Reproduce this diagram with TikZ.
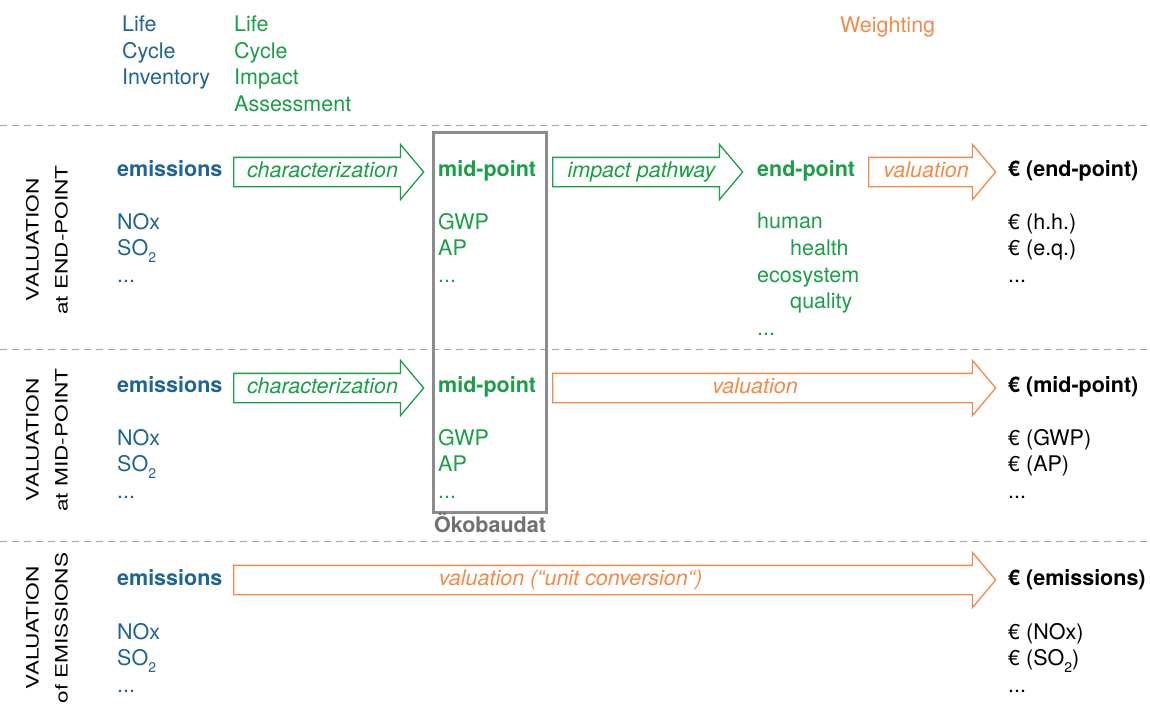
\documentclass[tikz,border=0pt]{standalone}
\usepackage{fontspec}
\setmainfont{TeX Gyre Heros}
\newfontfamily\labelfont[FakeStretch=1.33]{TeX Gyre Heros}
\usepackage{tikz}
\usepackage{xcolor}
\definecolor{lci_blue}{HTML}{1F6496}
\definecolor{lcia_green}{HTML}{1A9E48}
\definecolor{wgt_orange}{HTML}{F28A4A}
\definecolor{box_grey}{HTML}{8C8C8C}
\definecolor{oeko_grey}{HTML}{707070}
\usetikzlibrary{shapes.arrows,positioning,calc}
\newcommand{\dfont}{\fontsize{21.5pt}{26.5pt}\selectfont}
\newcommand{\moredots}{...}
\newcommand{\subtwo}{\raisebox{-7pt}{\fontsize{14pt}{14pt}\selectfont 2}}
\newcommand{\padright}[1]{\rule{#1}{0pt}}
\tikzset{TXT/.style={inner sep=0pt, anchor=base west, font=\dfont}}
\tikzset{BOLDTXT/.style={TXT, font=\dfont\bfseries}}
\tikzset{FLOW/.style={single arrow, draw=#1, text=#1, line width=1.3pt, single arrow head extend=13pt, single arrow tip angle=100, inner xsep=6pt, inner ysep=5pt, text height=14pt, text depth=4pt, anchor=tail, font=\dfont\itshape}}
\tikzset{SEP/.style={dashed, dash pattern=on 7pt off 5pt, box_grey!80, line width=0.9pt}}
\tikzset{ROWLABEL/.style={inner sep=0pt, rotate=90, align=center, font=\labelfont\fontsize{17pt}{29pt}\selectfont}}
\tikzset{OEKOBOX/.style={rectangle, draw=box_grey, line width=2.6pt, inner sep=0pt}}

\begin{document}
\begin{tikzpicture}[x=1pt,y=-1pt]
\useasboundingbox (0,0) rectangle (1150,705);

% column titles
\node[TXT, anchor=north west, align=left, text=lci_blue] (n_lci) at (122,16) {Life\\Cycle\\Inventory};
\node[TXT, anchor=north west, align=left, text=lcia_green] (n_lcia) at (234,16) {Life\\Cycle\\Impact\\Assessment};
\node[TXT, text=wgt_orange] (n_weighting) at (840,32) {Weighting};

% separators
\foreach \y in {125,349,541}
  \draw[SEP] (0,\y) -- (1150,\y);

% row titles
\node[ROWLABEL] (n_row_end) at (47,240) {VALUATION\\at END-POINT};
\node[ROWLABEL] (n_row_mid) at (47,440) {VALUATION\\at MID-POINT};
\node[ROWLABEL] (n_row_emi) at (47,628) {VALUATION\\of EMISSIONS};

% Oekobaudat box
\node[OEKOBOX, minimum width=113pt, minimum height=380pt, anchor=north west] (n_oekobox) at (432,131) {};
\node[BOLDTXT, anchor=base, text=oeko_grey] (n_oekobaudat) at (490,532) {Ökobaudat};

% valuation at end-point
\node[BOLDTXT, text=lci_blue] (n_em_end) at (117,176) {emissions};
\node[FLOW=lcia_green, minimum height=190pt] (a_char_end) at (233,172) {characterization};
\node[BOLDTXT, text=lcia_green] (n_mid_end) at (438,176) {mid-point};
\node[FLOW=lcia_green, minimum height=190pt] (a_path_end) at (552,172) {impact pathway};
\node[BOLDTXT, text=lcia_green] (n_endp_end) at (757,176) {end-point};
\node[FLOW=wgt_orange, minimum height=127pt] (a_val_end) at (868,172) {valuation};
\node[BOLDTXT] (n_eur_end) at (1008,176) {€ (end-point)};

\foreach \txt [count=\i] in {NOx, SO\subtwo, \moredots}
  \node[TXT, text=lci_blue] (n_lci_end\i) at (117,{229+26.5*(\i-1)}) {\txt};
\foreach \txt [count=\i] in {GWP, AP, \moredots}
  \node[TXT, text=lcia_green] (n_lcia_end\i) at (438,{229+26.5*(\i-1)}) {\txt};
\node[TXT, text=lcia_green] (n_hh) at (757,228) {human};
\node[TXT, text=lcia_green] (n_hh2) at (790,255) {health};
\node[TXT, text=lcia_green] (n_eq) at (757,282) {ecosystem};
\node[TXT, text=lcia_green] (n_eq2) at (790,308) {quality};
\node[TXT, text=lcia_green] (n_endp_more) at (757,335) {\moredots};
\foreach \txt [count=\i] in {€ (h.h.), € (e.q.), \moredots}
  \node[TXT] (n_eur_end\i) at (1008,{229+26.5*(\i-1)}) {\txt};

% valuation at mid-point
\node[BOLDTXT, text=lci_blue] (n_em_mid) at (117,392) {emissions};
\node[FLOW=lcia_green, minimum height=190pt] (a_char_mid) at (233,388) {characterization};
\node[BOLDTXT, text=lcia_green] (n_mid_mid) at (438,392) {mid-point};
\node[FLOW=wgt_orange, minimum height=443pt] (a_val_mid) at (552,388) {valuation\padright{26pt}};
\node[BOLDTXT] (n_eur_mid) at (1008,392) {€ (mid-point)};

\foreach \txt [count=\i] in {NOx, SO\subtwo, \moredots}
  \node[TXT, text=lci_blue] (n_lci_mid\i) at (117,{445+26.5*(\i-1)}) {\txt};
\foreach \txt [count=\i] in {GWP, AP, \moredots}
  \node[TXT, text=lcia_green] (n_lcia_mid\i) at (438,{445+26.5*(\i-1)}) {\txt};
\foreach \txt [count=\i] in {€ (GWP), € (AP), \moredots}
  \node[TXT] (n_eur_mid\i) at (1008,{445+26.5*(\i-1)}) {\txt};

% valuation of emissions
\node[BOLDTXT, text=lci_blue] (n_em_emi) at (117,585) {emissions};
\node[FLOW=wgt_orange, minimum height=762pt] (a_val_emi) at (233,580) {valuation (“unit conversion“)\padright{76pt}};
\node[BOLDTXT] (n_eur_emi) at (1008,585) {€ (emissions)};

\foreach \txt [count=\i] in {NOx, SO\subtwo, \moredots}
  \node[TXT, text=lci_blue] (n_lci_emi\i) at (117,{639+26.5*(\i-1)}) {\txt};
\foreach \txt [count=\i] in {€ (NOx), € (SO\subtwo), \moredots}
  \node[TXT] (n_eur_emi\i) at (1008,{639+26.5*(\i-1)}) {\txt};

\end{tikzpicture}
\end{document}
